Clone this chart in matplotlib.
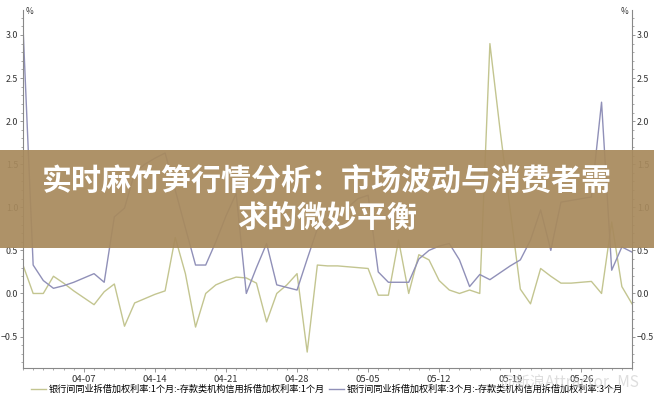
import numpy as np
import pandas as pd
import matplotlib
matplotlib.use("Agg")
import matplotlib.pyplot as plt
import matplotlib.dates as mdates
from matplotlib.ticker import MultipleLocator, FixedLocator

plt.rcParams['font.family'] = ['Noto Sans CJK SC', 'DejaVu Sans']

# daily data, 04-01 .. 05-31
dates = pd.date_range("2025-04-01", "2025-05-31", freq="D")
tick_dates = pd.to_datetime(["2025-04-07", "2025-04-14", "2025-04-21", "2025-04-28",
                             "2025-05-05", "2025-05-12", "2025-05-19", "2025-05-26"])

spread_1m = [0.33, 0.0, 0.0, 0.2, 0.12, 0.03, -0.05, -0.13, 0.02, 0.11,
             -0.38, -0.11, -0.06, -0.01, 0.03, 0.65, 0.23, -0.39, 0.0, 0.1,
             0.15, 0.19, 0.18, 0.12, -0.33, 0.0, 0.1, 0.23, -0.68, 0.33,
             0.32, 0.32, 0.31, 0.30, 0.29, -0.02, -0.02, 0.62, 0.0, 0.45,
             0.39, 0.15, 0.04, 0.0, 0.04, 0.0, 2.9, 1.9, 0.97, 0.05,
             -0.12, 0.29, 0.2, 0.12, 0.12, 0.13, 0.14, 0.0, 0.83, 0.08,
             -0.12]

spread_3m = [3.1, 0.33, 0.15, 0.06, 0.09, 0.13, 0.18, 0.23, 0.13, 0.89,
             0.99, 1.4, 1.5, 1.57, 1.63, 1.2, 0.76, 0.33, 0.33, 0.6,
             0.9, 1.16, 0.0, 0.3, 0.58, 0.1, 0.07, 0.04, 0.4, 0.75,
             0.85, 0.95, 1.0, 1.1, 1.14, 0.25, 0.13, 0.13, 0.13, 0.4,
             0.5, 0.55, 0.58, 0.39, 0.08, 0.22, 0.16, 0.24, 0.32, 0.39,
             0.62, 0.97, 0.5, 1.06, 1.08, 1.1, 1.12, 2.22, 0.27, 0.54,
             0.48]

label_1m = "银行间同业拆借加权利率:1个月:-存款类机构信用拆借加权利率:1个月"
label_3m = "银行间同业拆借加权利率:3个月:-存款类机构信用拆借加权利率:3个月"
title_1 = "实时麻竹笋行情分析：市场波动与消费者需"
title_2 = "求的微妙平衡"

fig = plt.figure(figsize=(6.54, 4.0), dpi=100)
ax = fig.add_axes([23/654, 32/400, (632-23)/654, (368-10)/400])

color_1m = '#c3c590'
color_3m = '#9090b8'
ax.plot(dates, spread_1m, color=color_1m, lw=1.0, label=label_1m)
ax.plot(dates, spread_3m, color=color_3m, lw=1.0, label=label_3m)

ax.set_xlim(dates[0], dates[-1])
ax.set_ylim(-0.865, 3.29)

ax.xaxis.set_major_locator(FixedLocator(mdates.date2num(tick_dates)))
ax.xaxis.set_major_formatter(mdates.DateFormatter('%m-%d'))
ax.xaxis.set_minor_locator(mdates.DayLocator())
ax.yaxis.set_major_locator(MultipleLocator(0.5))
ax.yaxis.set_minor_locator(MultipleLocator(0.1))

ax.spines['top'].set_visible(False)
for s in ['left', 'right', 'bottom']:
    ax.spines[s].set_color('#888888')
    ax.spines[s].set_linewidth(0.8)

ax.tick_params(axis='both', which='major', labelsize=6.8, colors='#888888',
               labelcolor='#333333', length=3, width=0.6)
ax.tick_params(axis='both', which='minor', colors='#888888', length=1.5, width=0.5)
ax.tick_params(axis='y', which='major', labelsize=6.4, length=2.5)
ax.tick_params(axis='y', which='both', right=True, labelright=True, pad=1)
ax.tick_params(axis='x', pad=2)

fig.text(26/654, 1 - 12/400, '%', fontsize=6, color='#333333', va='center', ha='left')
fig.text(628/654, 1 - 12/400, '%', fontsize=6, color='#333333', va='center', ha='right')

fig.legend(loc='lower center', bbox_to_anchor=(0.5, -0.005), ncol=2, frameon=False,
           fontsize=6.6, handlelength=1.6, handletextpad=0.3, columnspacing=0.5)

# banner over the chart
fig.patches.append(plt.Rectangle((0, 1 - 248/400), 1, 98/400, transform=fig.transFigure,
                                 facecolor='#a88a5d', alpha=0.93, edgecolor='none', zorder=5))
fig.text(0.5, 1 - 182/400, title_1, fontsize=21.6, fontweight='bold', color='white',
         ha='center', va='center', zorder=6)
fig.text(0.5, 1 - 218/400, title_2, fontsize=21.6, fontweight='bold', color='white',
         ha='center', va='center', zorder=6)

# faint watermark
fig.text(500/654, 1 - 383/400, '@新浪Attractor_MS', fontsize=11, color='#d0d0d0',
         alpha=0.7, ha='left', va='center', zorder=6)

fig.savefig('out.png', dpi=100)
